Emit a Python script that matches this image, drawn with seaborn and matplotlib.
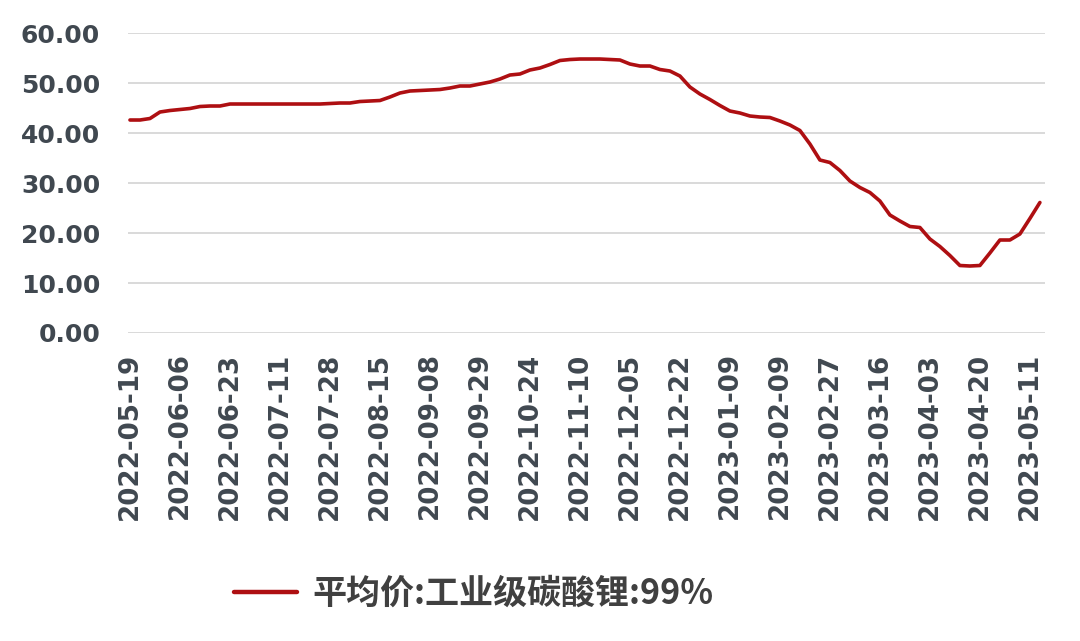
import numpy as np
import pandas as pd
import matplotlib
matplotlib.use("Agg")
import matplotlib.pyplot as plt
import seaborn as sns

# Tick labels (equally spaced categories on the x axis)
tick_labels = ["2022-05-19", "2022-06-06", "2022-06-23", "2022-07-11", "2022-07-28",
               "2022-08-15", "2022-09-08", "2022-09-29", "2022-10-24", "2022-11-10",
               "2022-12-05", "2022-12-22", "2023-01-09", "2023-02-09", "2023-02-27",
               "2023-03-16", "2023-04-03", "2023-04-20", "2023-05-11"]

# Average price, industrial-grade lithium carbonate 99% (10k CNY/t),
# sampled 5 points per tick interval
price = [42.6, 42.6, 42.9, 44.2, 44.5, 44.7, 44.9, 45.3, 45.4, 45.4,
         45.8, 45.8, 45.8, 45.8, 45.8, 45.8, 45.8, 45.8, 45.8, 45.8,
         45.9, 46.0, 46.0, 46.3, 46.4, 46.5, 47.2, 48.0, 48.4, 48.5,
         48.6, 48.7, 49.0, 49.4, 49.4, 49.8, 50.2, 50.8, 51.6, 51.8,
         52.6, 53.0, 53.7, 54.5, 54.7, 54.8, 54.8, 54.8, 54.7, 54.6,
         53.8, 53.4, 53.4, 52.7, 52.4, 51.4, 49.2, 47.8, 46.7, 45.5,
         44.4, 44.0, 43.4, 43.2, 43.1, 42.4, 41.6, 40.5, 37.8, 34.6,
         34.1, 32.5, 30.4, 29.1, 28.1, 26.4, 23.6, 22.4, 21.3, 21.1,
         18.8, 17.3, 15.5, 13.5, 13.4, 13.5, 16.0, 18.6, 18.6, 19.8,
         22.9, 26.1]
series_name = "平均价:工业级碳酸锂:99%"
y_ticks = [0, 10, 20, 30, 40, 50, 60]
points_per_tick = 5

df = pd.DataFrame({"pos": np.arange(len(price)) / points_per_tick,
                   "value": price,
                   "series": series_name})

sns.set_theme(style="white")
plt.rcParams["font.family"] = ["DejaVu Sans", "Noto Sans CJK SC"]

fig = plt.figure(figsize=(10.8, 6.41), dpi=100)
ax = fig.add_axes([0.1185, 0.4805, 0.849, 0.468])

sns.lineplot(data=df, x="pos", y="value", hue="series",
             palette=["#AE0F12"], linewidth=2.6, ax=ax)

ax.set_ylim(0, 60)
ax.set_xlim(-0.04, 18.3)
ax.set_yticks(y_ticks)
ax.set_yticklabels([f"{v:.2f}" for v in y_ticks], fontsize=18,
                   fontweight="bold", color="#404850")
ax.set_xticks(range(len(tick_labels)))
ax.set_xticklabels(tick_labels, rotation=90, fontsize=18.8,
                   fontweight="bold", color="#404850")
ax.tick_params(axis="y", length=0, pad=20)
ax.tick_params(axis="x", length=0, pad=14)
ax.grid(axis="y", color="#d9d9d9", linewidth=1.4)
ax.grid(axis="x", visible=False)
for s in ax.spines.values():
    s.set_visible(False)
ax.set_xlabel("")
ax.set_ylabel("")

handles, labels = ax.get_legend_handles_labels()
ax.legend_.remove()
leg = fig.legend(handles, labels, loc="center", bbox_to_anchor=(0.439, 0.075),
                 frameon=False, handlelength=1.85, handletextpad=0.45,
                 prop={"family": ["Noto Sans CJK SC"], "weight": "bold", "size": 24.5})
for t in leg.get_texts():
    t.set_color("#404040")
for l in leg.get_lines():
    l.set_linewidth(3.2)

fig.savefig("out.png", dpi=100)
